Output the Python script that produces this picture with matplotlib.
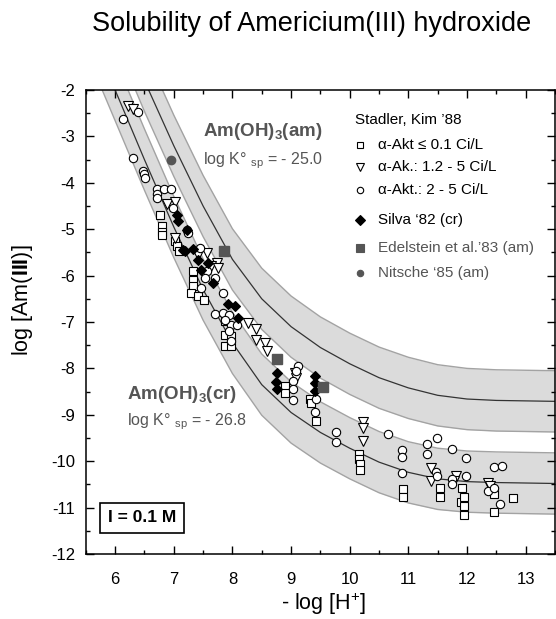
import numpy as np
import matplotlib
matplotlib.use("Agg")
import matplotlib.pyplot as plt
from matplotlib.ticker import MultipleLocator

plt.rcParams['font.family'] = ['Liberation Sans', 'DejaVu Sans']
plt.rcParams['mathtext.fontset'] = 'custom'
plt.rcParams['mathtext.rm'] = 'Liberation Sans'
plt.rcParams['mathtext.it'] = 'Liberation Sans:italic'
plt.rcParams['mathtext.bf'] = 'Liberation Sans:bold'
plt.rcParams['axes.unicode_minus'] = False

# solubility curves (log [Am] vs -log [H+])
curve_ph = [5.5, 6.0, 6.5, 7.0, 7.5, 8.0, 8.5, 9.0, 9.5, 10.0, 10.5, 11.0, 11.5, 12.0, 12.5, 13.0, 13.5]
am_curve = [1.2, -0.3, -1.8, -3.2, -4.5, -5.65, -6.5, -7.1, -7.55, -7.9, -8.2, -8.42, -8.58, -8.66, -8.69, -8.7, -8.71]
cr_curve = [-0.5, -2.0, -3.5, -4.95, -6.3, -7.45, -8.35, -8.95, -9.38, -9.72, -10.02, -10.24, -10.38, -10.44, -10.46, -10.47, -10.48]
band = 0.66

# Stadler, Kim '88, alpha-Akt <= 0.1 Ci/L (squares)
sq_x = [6.77, 6.80, 6.80, 6.80, 7.02, 7.06, 7.09, 7.33, 7.33, 7.33, 7.30, 7.41, 7.51,
        7.87, 7.87, 7.87, 7.98, 7.98, 8.89, 8.89, 9.32, 9.34, 9.43,
        10.16, 10.16, 10.18, 10.18, 10.90, 10.90, 11.54, 11.54, 11.91, 11.89,
        11.95, 11.95, 11.95, 12.46, 12.46, 12.78]
sq_y = [-4.69, -4.94, -5.05, -5.12, -5.26, -5.37, -5.48, -5.91, -6.09, -6.22, -6.37, -6.44, -6.53,
        -6.98, -7.27, -7.52, -7.52, -7.31, -8.38, -8.52, -8.67, -8.74, -9.13,
        -9.85, -9.96, -10.06, -10.19, -10.59, -10.78, -10.57, -10.78, -10.57, -10.87,
        -10.78, -10.97, -11.17, -10.71, -11.09, -10.8]

# alpha-Ak.: 1.2 - 5 Ci/L (down triangles)
tri_x = [6.22, 6.31, 6.89, 7.02, 7.02, 7.41, 7.56, 7.73, 7.64, 7.75,
         8.26, 8.41, 8.41, 8.56, 8.59, 9.06, 9.09,
         10.22, 10.23, 10.23, 11.38, 11.38, 11.81, 11.78, 12.36, 12.39]
tri_y = [-2.34, -2.41, -4.45, -4.42, -5.2, -5.55, -5.51, -5.73, -5.79, -5.84,
         -7.03, -7.15, -7.39, -7.46, -7.63, -8.09, -8.2,
         -9.15, -9.28, -9.56, -10.14, -10.42, -10.31, -10.42, -10.47, -10.53]

# alpha-Akt.: 2 - 5 Ci/L (circles)
circ_x = [6.14, 6.39, 6.31, 6.47, 6.49, 6.51, 6.71, 6.72, 6.71, 6.83, 6.96, 6.98,
          7.22, 7.24, 7.44, 7.56, 7.70, 7.84, 7.53, 7.47,
          7.70, 7.84, 7.95, 7.98, 8.07, 7.95, 7.98, 7.87,
          9.03, 9.03, 9.03, 9.11, 9.09, 9.43, 9.41, 9.77, 9.77, 10.66,
          10.89, 10.89, 10.89, 11.31, 11.32, 11.48, 11.47, 11.48,
          11.74, 11.98, 11.74, 11.74, 11.98, 12.36, 12.46, 12.46, 12.60, 12.57]
circ_y = [-2.63, -2.47, -3.47, -3.74, -3.81, -3.89, -4.14, -4.24, -4.33, -4.14, -4.14, -4.54,
          -5.01, -5.09, -5.41, -5.91, -6.05, -6.37, -6.05, -6.27,
          -6.82, -6.8, -6.84, -7.06, -7.06, -7.2, -7.42, -6.96,
          -8.27, -8.45, -8.68, -7.95, -8.06, -8.67, -8.95, -9.37, -9.58, -9.42,
          -9.76, -9.92, -10.26, -9.63, -9.85, -9.49, -10.23, -10.31,
          -9.74, -9.94, -10.39, -10.5, -10.31, -10.64, -10.57, -10.13, -10.1, -10.92]

# Silva '82 (cr)
silva_x = [7.05, 7.07, 7.22, 7.19, 7.32, 7.16, 7.41, 7.58, 7.47, 7.67, 7.92, 8.04, 8.09,
           8.76, 8.75, 8.76, 9.41, 9.41, 9.40]
silva_y = [-4.69, -4.83, -5.01, -5.48, -5.43, -5.44, -5.66, -5.73, -5.87, -6.16, -6.62, -6.65, -6.91,
           -8.09, -8.29, -8.45, -8.16, -8.31, -8.49]

# Edelstein et al. '83 (am), Nitsche '85 (am)
edel_x = [7.86, 8.76, 9.55]
edel_y = [-5.48, -7.79, -8.4]
nit_x = [6.96]
nit_y = [-3.51]

fig = plt.figure(figsize=(5.56, 6.19), dpi=100)
ax = fig.add_axes([0.1543, 0.105, 0.8439, 0.7496])

gray_fill = '#dbdbdb'
gray_edge = '#a3a3a3'
dark = '#555555'

for c in (am_curve, cr_curve):
    c = np.array(c)
    ax.fill_between(curve_ph, c - band, c + band, color=gray_fill, lw=0, zorder=1)
    ax.plot(curve_ph, c - band, color=gray_edge, lw=1.0, zorder=2)
    ax.plot(curve_ph, c + band, color=gray_edge, lw=1.0, zorder=2)
    ax.plot(curve_ph, c, color='#333333', lw=0.9, zorder=2)

mk = dict(linestyle='none', markeredgecolor='black', markeredgewidth=0.8, zorder=4)
ax.plot(sq_x, sq_y, marker='s', markersize=5.3, markerfacecolor='white', **mk)
ax.plot(tri_x, tri_y, marker='v', markersize=6.8, markerfacecolor='white', **mk)
ax.plot(circ_x, circ_y, marker='o', markersize=6.0, markerfacecolor='white', **mk)
ax.plot(silva_x, silva_y, marker='D', markersize=5.6, markerfacecolor='black', **mk)
ax.plot(edel_x, edel_y, marker='s', markersize=6.5, markerfacecolor=dark, markeredgecolor=dark,
        linestyle='none', zorder=4)
ax.plot(nit_x, nit_y, marker='o', markersize=6.0, markerfacecolor=dark, markeredgecolor=dark,
        linestyle='none', zorder=4)

ax.set_xlim(5.5, 13.5)
ax.set_ylim(-12, -2)
ax.xaxis.set_major_locator(MultipleLocator(1))
ax.xaxis.set_minor_locator(MultipleLocator(0.5))
ax.yaxis.set_major_locator(MultipleLocator(1))
ax.yaxis.set_minor_locator(MultipleLocator(0.5))
ax.tick_params(which='both', direction='in', top=True, right=True, labelsize=12)
ax.tick_params(which='major', length=6, width=1)
ax.tick_params(which='minor', length=3, width=1)
ax.tick_params(axis='x', pad=13)
ax.tick_params(axis='y', pad=7.5)
for s in ax.spines.values():
    s.set_linewidth(1.1)

fig.text(0.583, 0.024, r'- log [H$^{+}$]', fontsize=15.5, ha='center', va='center')
fig.text(0.041, 0.515, r'log [Am($\mathbf{III}$)]', fontsize=15.5, ha='center', va='center', rotation=90)
fig.text(0.561, 0.95, 'Solubility of Americium(III) hydroxide', ha='center', va='baseline', fontsize=19.5)

# curve annotations
ax.text(7.49, -2.9, r'Am(OH)$_\mathbf{3}$(am)', fontsize=13.5, fontweight='bold', color=dark,
        va='center', zorder=5)
ax.text(7.49, -3.52, r'log K° $_{\rm sp}$ = - 25.0', fontsize=11.5, color=dark, va='center', zorder=5)
ax.text(6.2, -8.57, r'Am(OH)$_\mathbf{3}$(cr)', fontsize=13.5, fontweight='bold', color=dark,
        va='center', zorder=5)
ax.text(6.2, -9.15, r'log K° $_{\rm sp}$ = - 26.8', fontsize=11.5, color=dark, va='center', zorder=5)

ax.text(6.46, -11.22, 'I = 0.1 M', fontsize=12.5, fontweight='bold', ha='center', va='center', zorder=5,
        bbox=dict(boxstyle='square,pad=0.45', facecolor='white', edgecolor='black', lw=1.2))

# legend drawn by hand
tr = ax.transAxes
lfs = 11
ax.text(0.574, 0.935, 'Stadler, Kim ’88', transform=tr, fontsize=lfs, va='center')
leg_rows = [
    ('s', 'white', 'black', 'α-Akt ≤ 0.1 Ci/L', 'black', 0.881, 4.6),
    ('v', 'white', 'black', 'α-Ak.: 1.2 - 5 Ci/L', 'black', 0.833, 5.6),
    ('o', 'white', 'black', 'α-Akt.: 2 - 5 Ci/L', 'black', 0.784, 4.6),
    ('D', 'black', 'black', 'Silva ‘82 (cr)', 'black', 0.720, 5.6),
    ('s', dark, dark, 'Edelstein et al.’83 (am)', dark, 0.659, 5.2),
    ('o', dark, dark, 'Nitsche ‘85 (am)', dark, 0.605, 4.6),
]
for m, fc, ec, lab, tc, yy, ms in leg_rows:
    ax.plot([0.584], [yy], marker=m, markersize=ms, markerfacecolor=fc, markeredgecolor=ec,
            markeredgewidth=0.8, transform=tr, clip_on=False, zorder=5)
    ax.text(0.623, yy, lab, transform=tr, fontsize=lfs, color=tc, va='center')

fig.savefig('out.png', dpi=100)
